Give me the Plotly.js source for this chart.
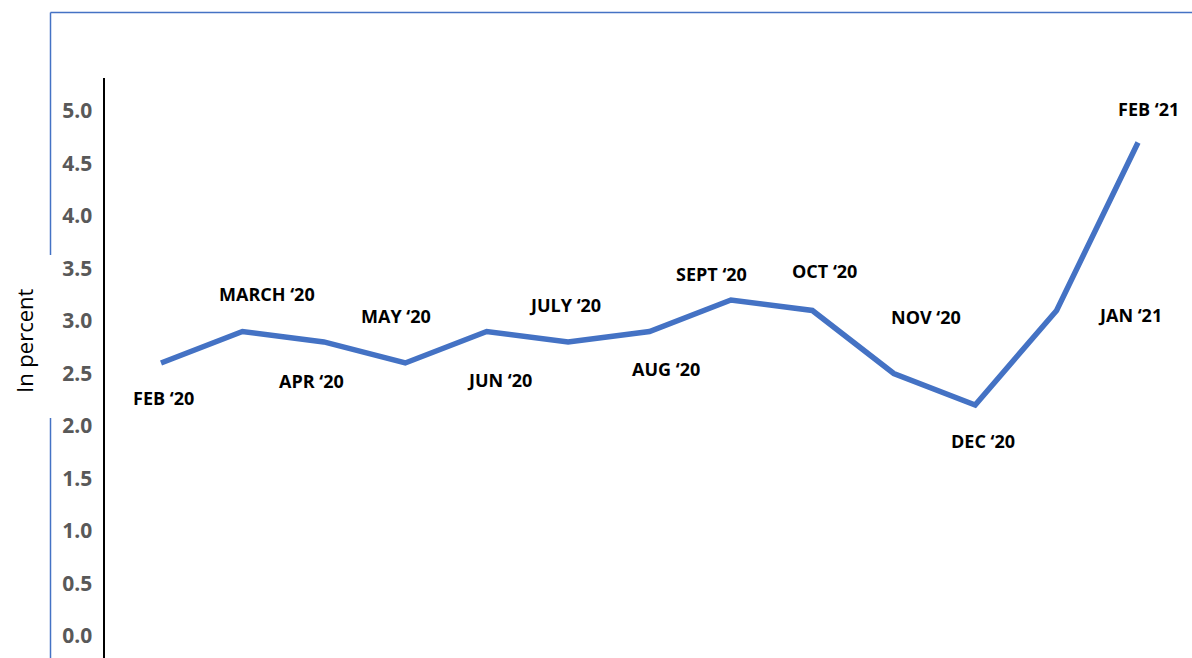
<!DOCTYPE html>
<html>
<head>
<meta charset="utf-8">
<script src="https://cdn.plot.ly/plotly-3.0.1.min.js"></script>
<style>html,body{margin:0;padding:0;background:#fff;}#chart{width:1192px;height:658px;}</style>
</head>
<body>
<div id="chart"></div>
<script>
// Data
const months = ["FEB \u201820","MARCH \u201820","APR \u201820","MAY \u201820","JUN \u201820","JULY \u201820","AUG \u201820","SEPT \u201820","OCT \u201820","NOV \u201820","DEC \u201820","JAN \u201821","FEB \u201821"];
const values = [2.6, 2.9, 2.8, 2.6, 2.9, 2.8, 2.9, 3.2, 3.1, 2.5, 2.2, 3.1, 4.7];
const yTicks = [0, 0.5, 1, 1.5, 2, 2.5, 3, 3.5, 4, 4.5, 5];
const yTickLabels = ["0.0","0.5","1.0","1.5","2.0","2.5","3.0","3.5","4.0","4.5","5.0"];

// label offsets in pixels (style only)
const labelShift = [[2,-35],[25,37],[-12,-39],[-9,47],[13,-49],[-3,37],[16,-38],[-19,26],[12,39],[32,56],[8,-36],[73,-5],[10,33]];

const xIdx = months.map((_, i) => i);
const blue = "#4472C4";

const trace = {
  x: xIdx, y: values, type: "scatter", mode: "lines",
  line: {color: blue, width: 5.5}, hoverinfo: "skip"
};

const annotations = months.map((m, i) => ({
  x: i, y: values[i], xref: "x", yref: "y", text: m, showarrow: false,
  xanchor: "center", yanchor: "middle",
  xshift: labelShift[i][0], yshift: labelShift[i][1],
  font: {family: "Open Sans", size: 18, color: "#000", weight: "bold"}
}));
annotations.push({
  text: "In percent", xref: "paper", yref: "paper",
  x: (24 - 105) / 1087, y: (658 - 341) / 580, showarrow: false, textangle: -90,
  xanchor: "center", yanchor: "middle",
  font: {family: "Open Sans", size: 22, color: "#000"}
});

const px = v => (v - 105) / 1087;
const py = v => (658 - v) / 580;
const shapes = [
  {type: "line", xref: "paper", yref: "paper", x0: px(50.5), x1: 1.0, y0: py(12.5), y1: py(12.5), line: {color: blue, width: 1.5}},
  {type: "line", xref: "paper", yref: "paper", x0: px(50.5), x1: px(50.5), y0: py(12.5), y1: py(255), line: {color: blue, width: 1.5}},
  {type: "line", xref: "paper", yref: "paper", x0: px(50.5), x1: px(50.5), y0: py(418), y1: py(658), line: {color: blue, width: 1.5}}
];

const layout = {
  width: 1192, height: 658,
  margin: {l: 105, r: 0, t: 78, b: 0},
  paper_bgcolor: "#fff", plot_bgcolor: "#fff",
  showlegend: false,
  xaxis: {range: [-0.688, 12.663], showgrid: false, zeroline: false, showline: false, showticklabels: false, ticks: ""},
  yaxis: {range: [-0.21, 5.314], showgrid: false, zeroline: false, showline: true, linecolor: "#000", linewidth: 2.5,
    tickvals: yTicks, ticktext: yTickLabels, ticks: "", ticklabelstandoff: 6,
    tickfont: {family: "Open Sans", size: 21, color: "#595959", weight: "bold"}},
  annotations: annotations,
  shapes: shapes
};

Plotly.newPlot("chart", [trace], layout, {displayModeBar: false, staticPlot: true});
</script>
</body>
</html>
